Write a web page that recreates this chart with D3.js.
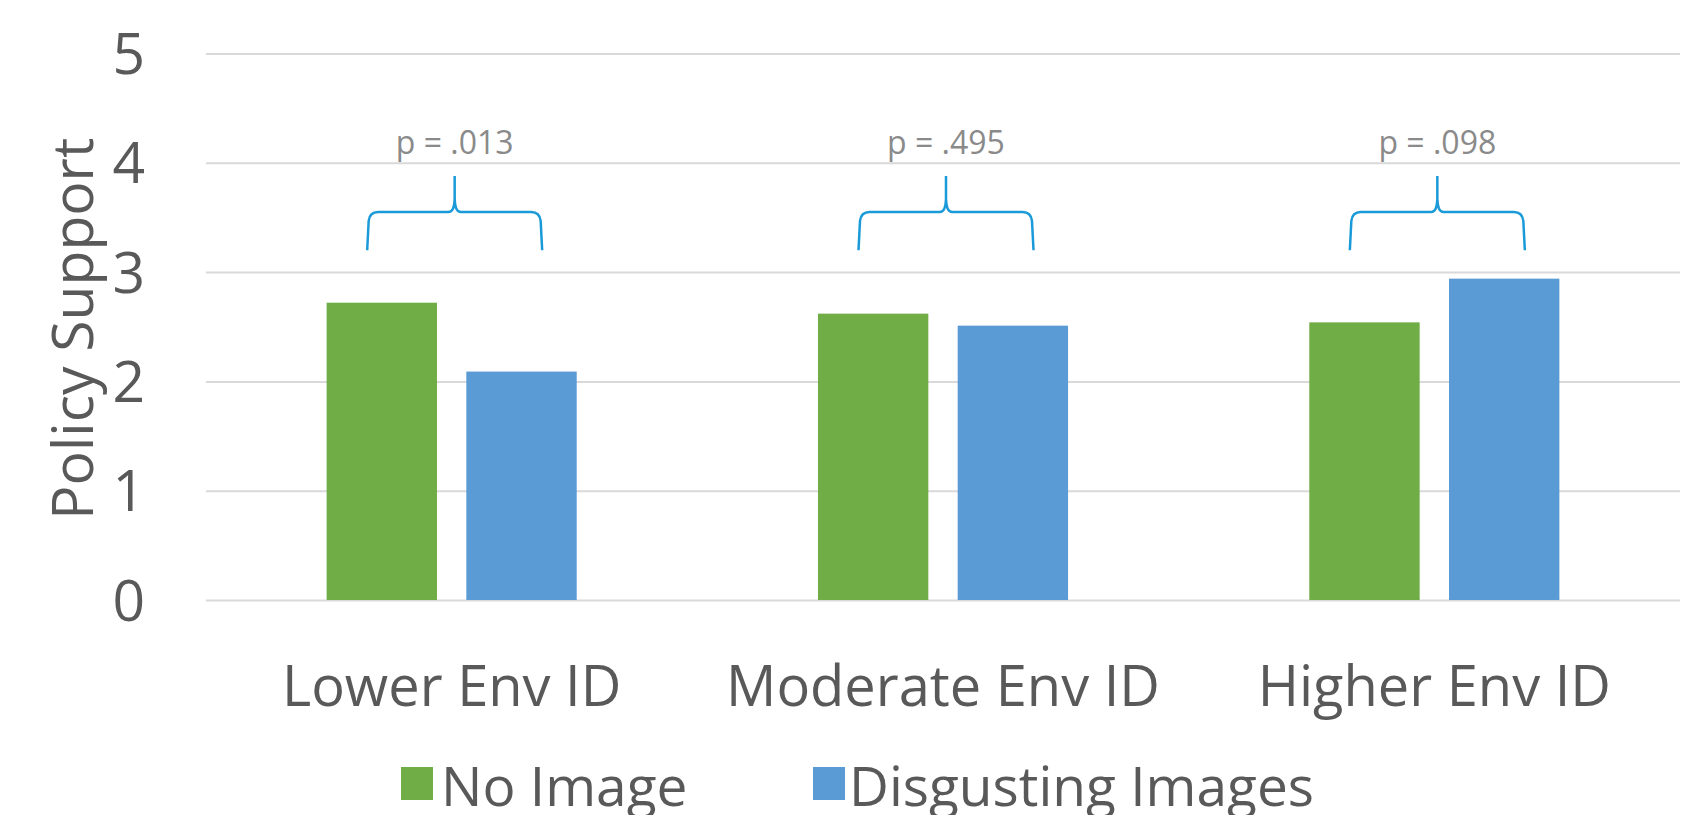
<!DOCTYPE html>
<html>
<head>
<meta charset="utf-8">
<script src="https://cdn.jsdelivr.net/npm/d3@7"></script>
<style>
  html, body { margin: 0; padding: 0; background: #ffffff; }
  svg { display: block; }
  text { font-family: "Open Sans", "Noto Sans", sans-serif; }
</style>
</head>
<body>
<svg id="chart" width="1699" height="815"></svg>
<script>
// ---- data ----
const categories = ["Lower Env ID", "Moderate Env ID", "Higher Env ID"];
const seriesNames = ["No Image", "Disgusting Images"];
const noImage = [2.72, 2.62, 2.54];
const disgustingImages = [2.09, 2.51, 2.94];
const pLabels = ["p = .013", "p = .495", "p = .098"];
const yTicks = [0, 1, 2, 3, 4, 5];
const yTitle = "Policy Support";

const colors = { "No Image": "#70AD47", "Disgusting Images": "#5B9BD5" };
const seriesValues = { "No Image": noImage, "Disgusting Images": disgustingImages };

// ---- layout ----
const svg = d3.select("#chart");
const plot = { left: 206, right: 1680, top: 53.5, bottom: 600 };

const y = d3.scaleLinear().domain([0, 5]).range([plot.bottom, plot.top]);
const x0 = d3.scaleBand().domain(categories).range([plot.left, plot.right]).padding(0);
const groupW = x0.step() * 0.509;
const x1 = d3.scaleBand().domain(seriesNames).range([0, groupW]).paddingInner(0.21);

// gridlines via axis
const grid = svg.append("g")
  .attr("transform", `translate(${plot.left},0)`)
  .call(d3.axisLeft(y).tickValues(yTicks).tickSize(-(plot.right - plot.left)).tickFormat(""));
grid.select(".domain").remove();
grid.selectAll(".tick line").attr("stroke", "#d9d9d9").attr("stroke-width", 2);

// y tick labels
const yAxis = svg.append("g")
  .attr("transform", `translate(145,0)`)
  .call(d3.axisLeft(y).tickValues(yTicks).tickSize(0).tickPadding(0).tickFormat(d3.format("d")));
yAxis.select(".domain").remove();
yAxis.selectAll(".tick text")
  .attr("font-family", "'Open Sans', sans-serif")
  .attr("font-size", 57)
  .attr("fill", "#595959")
  .attr("text-anchor", "end")
  .attr("dy", null)
  .attr("y", 20);

// y title
svg.append("text")
  .attr("transform", `translate(93,${(plot.top + plot.bottom) / 2 + 2}) rotate(-90)`)
  .attr("text-anchor", "middle")
  .attr("font-size", 57)
  .attr("fill", "#595959")
  .text(yTitle);

// bars
const groups = svg.append("g").selectAll("g")
  .data(categories)
  .join("g")
  .attr("transform", d => `translate(${x0(d) + (x0.bandwidth() - groupW) / 2},0)`);

groups.selectAll("rect")
  .data((d, i) => seriesNames.map(s => ({ s, v: seriesValues[s][i] })))
  .join("rect")
  .attr("x", d => x1(d.s))
  .attr("width", x1.bandwidth())
  .attr("y", d => y(d.v))
  .attr("height", d => y(0) - y(d.v))
  .attr("fill", d => colors[d.s]);

// x category labels
const xAxis = svg.append("g")
  .attr("transform", `translate(0,706)`)
  .call(d3.axisBottom(x0).tickSize(0).tickPadding(0));
xAxis.select(".domain").remove();
xAxis.selectAll(".tick text")
  .attr("font-family", "'Open Sans', sans-serif")
  .attr("font-size", 56)
  .attr("fill", "#595959")
  .attr("dy", null)
  .attr("y", 0);

// braces and p labels
const braceBottom = 3.2, braceMid = 3.55, braceTip = 3.88, pLabelY = 4.08;
const braceHalf = 87.5;
function bracePath(c) {
  const yb = y(braceBottom), ym = y(braceMid), yt = y(braceTip);
  const l = c - braceHalf, r = c + braceHalf;
  return [
    `M${l},${yb}`,
    `L${l + 1.5},${ym + 9}`,
    `Q${l + 2.5},${ym} ${l + 11},${ym}`,
    `L${c - 6},${ym}`,
    `Q${c - 0.5},${ym} ${c},${ym - 13}`,
    `L${c},${yt}`,
    `M${c},${ym - 13}`,
    `Q${c + 0.5},${ym} ${c + 6},${ym}`,
    `L${r - 11},${ym}`,
    `Q${r - 2.5},${ym} ${r - 1.5},${ym + 9}`,
    `L${r},${yb}`
  ].join(" ");
}
const ann = svg.append("g");
categories.forEach((cat, i) => {
  const c = x0(cat) + x0.bandwidth() / 2 + 3;
  ann.append("path")
    .attr("d", bracePath(c))
    .attr("fill", "none")
    .attr("stroke", "#1a9ad8")
    .attr("stroke-width", 2.5)
    .attr("stroke-linejoin", "round");
  ann.append("text")
    .attr("x", c)
    .attr("y", y(pLabelY))
    .attr("text-anchor", "middle")
    .attr("font-size", 32)
    .attr("fill", "#8a8a8a")
    .text(pLabels[i]);
});

// legend
const legendItems = [
  { name: "No Image", sx: 401, tx: 441 },
  { name: "Disgusting Images", sx: 813, tx: 849 }
];
const leg = svg.append("g");
legendItems.forEach(it => {
  leg.append("rect")
    .attr("x", it.sx).attr("y", 767)
    .attr("width", 32).attr("height", 33)
    .attr("fill", colors[it.name]);
  leg.append("text")
    .attr("x", it.tx).attr("y", 806)
    .attr("font-size", 55)
    .attr("fill", "#595959")
    .text(it.name);
});
</script>
</body>
</html>
